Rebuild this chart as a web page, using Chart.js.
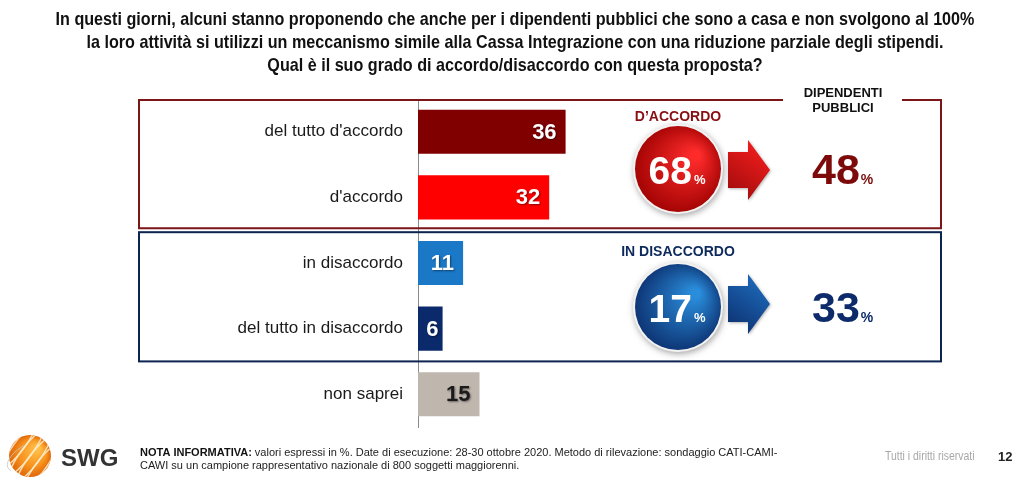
<!DOCTYPE html>
<html><head><meta charset="utf-8">
<script src="https://cdn.jsdelivr.net/npm/chart.js@4.4.1/dist/chart.umd.min.js"></script>
<style>html,body{margin:0;padding:0;background:#fff;}#wrap{width:1022px;height:486px;}</style>
</head><body><div id="wrap"><canvas id="c" width="1022" height="486"></canvas></div>
<script>
const titleLines = [
  "In questi giorni, alcuni stanno proponendo che anche per i dipendenti pubblici che sono a casa e non svolgono al 100%",
  "la loro attività si utilizzi un meccanismo simile alla Cassa Integrazione con una riduzione parziale degli stipendi.",
  "Qual è il suo grado di accordo/disaccordo con questa proposta?"
];
const categories = ["del tutto d'accordo", "d'accordo", "in disaccordo", "del tutto in disaccordo", "non saprei"];
const values = [36, 32, 11, 6, 15];
const barColors = ['#800000', '#ff0000', '#1b78c6', '#0b2a6b', '#bfb6ae'];
const valueLabelColors = ['#ffffff', '#ffffff', '#ffffff', '#ffffff', '#1a1a1a'];
const groupLabels = ["D\u2019ACCORDO", "IN DISACCORDO"];
const groupTotals = [68, 17];
const publicEmployees = [48, 33];
const publicHeader = ["DIPENDENTI", "PUBBLICI"];
const noteLines = [
  ["NOTA INFORMATIVA:", " valori espressi in %. Date di esecuzione: 28-30 ottobre 2020. Metodo di rilevazione: sondaggio CATI-CAMI-"],
  ["", "CAWI su un campione rappresentativo nazionale di 800 soggetti maggiorenni."]
];
const rightsText = "Tutti i diritti riservati";
const pageNumber = "12";

const SANS = "'Liberation Sans', Arial, sans-serif";

function scaledText(ctx, text, x, y, align, font, color, sx) {
  ctx.save();
  ctx.font = font;
  ctx.fillStyle = color;
  ctx.textAlign = align;
  ctx.textBaseline = 'middle';
  ctx.translate(x, y);
  ctx.scale(sx, 1);
  ctx.fillText(text, 0, 0);
  const w = ctx.measureText(text).width * sx;
  ctx.restore();
  return w;
}

const decor = {
  id: 'decor',
  beforeDatasetsDraw(chart) {
    const ctx = chart.ctx;
    const ys = chart.scales.y;
    const ca = chart.chartArea;
    const c = i => ys.getPixelForValue(i);
    const redTop = ca.top + 1, redBot = (c(1) + c(2)) / 2 - 2;
    const blueTop = redBot + 4, blueBot = (c(3) + c(4)) / 2;
    const L = 139, R = 941;
    ctx.save();
    ctx.lineWidth = 2;
    ctx.strokeStyle = '#7a1518';
    ctx.beginPath();
    ctx.moveTo(783, redTop); ctx.lineTo(L, redTop); ctx.lineTo(L, redBot); ctx.lineTo(R, redBot); ctx.lineTo(R, redTop); ctx.lineTo(902, redTop);
    ctx.stroke();
    ctx.strokeStyle = '#0c2450';
    ctx.strokeRect(L, blueTop, R - L, blueBot - blueTop);
    ctx.restore();
  },
  afterDraw(chart) {
    const ctx = chart.ctx;
    ctx.save();
    titleLines.forEach((t, i) => scaledText(ctx, t, 515, 20 + i * 23, 'center', 'bold 19px ' + SANS, '#111', 0.85));
    ctx.textAlign = 'center';
    ctx.textBaseline = 'middle';
    ctx.font = 'bold 13px ' + SANS;
    ctx.fillStyle = '#111';
    publicHeader.forEach((t, i) => ctx.fillText(t, 843, 93 + i * 15));

    const groups = [
      {cy: 169, arrowCy: 170, labelY: 117, labelColor: '#8a0f12',
       light: '#ff2b2b', dark: '#9c0000', aL: '#9a0a0a', aR: '#ff2020', numColor: '#7d0a0a'},
      {cy: 307, arrowCy: 304, labelY: 252, labelColor: '#0d2a5c',
       light: '#2a8ddb', dark: '#0b2d6c', aL: '#0c2c6a', aR: '#1f73c6', numColor: '#0d2a6b'}
    ];
    groups.forEach((g, i) => {
      const cx = 678, r = 43;
      ctx.font = 'bold 14px ' + SANS;
      ctx.fillStyle = g.labelColor;
      ctx.textAlign = 'center';
      ctx.textBaseline = 'middle';
      ctx.fillText(groupLabels[i], cx, g.labelY);
      ctx.save();
      ctx.shadowColor = 'rgba(0,0,0,0.35)';
      ctx.shadowBlur = 6; ctx.shadowOffsetX = 1; ctx.shadowOffsetY = 2;
      ctx.beginPath(); ctx.arc(cx, g.cy, r + 2, 0, Math.PI * 2);
      ctx.fillStyle = '#f2f2f2'; ctx.fill();
      ctx.restore();
      const grd = ctx.createRadialGradient(cx + 18, g.cy - 14, 4, cx, g.cy, r + 6);
      grd.addColorStop(0, g.light); grd.addColorStop(1, g.dark);
      ctx.beginPath(); ctx.arc(cx, g.cy, r, 0, Math.PI * 2);
      ctx.fillStyle = grd; ctx.fill();
      ctx.textBaseline = 'alphabetic';
      ctx.fillStyle = '#fff';
      ctx.font = 'bold 39px ' + SANS;
      const n = String(groupTotals[i]);
      const nw = ctx.measureText(n).width;
      ctx.font = 'bold 13px ' + SANS;
      const pw = ctx.measureText('%').width;
      const sx = cx - (nw + pw + 2) / 2 - 1;
      ctx.textAlign = 'left';
      ctx.font = 'bold 39px ' + SANS;
      ctx.fillText(n, sx, g.cy + 15);
      ctx.font = 'bold 13px ' + SANS;
      ctx.fillText('%', sx + nw + 2, g.cy + 15);
      const ay = g.arrowCy, x0 = 728, xh = 748, x1 = 770;
      const ag = ctx.createLinearGradient(x0, ay + 30, x1, ay - 30);
      ag.addColorStop(0, g.aL); ag.addColorStop(1, g.aR);
      ctx.save();
      ctx.shadowColor = 'rgba(0,0,0,0.3)'; ctx.shadowBlur = 3; ctx.shadowOffsetX = 1; ctx.shadowOffsetY = 1;
      ctx.beginPath();
      ctx.moveTo(x0, ay - 18); ctx.lineTo(xh, ay - 18); ctx.lineTo(xh, ay - 30);
      ctx.lineTo(x1, ay); ctx.lineTo(xh, ay + 30); ctx.lineTo(xh, ay + 18); ctx.lineTo(x0, ay + 18);
      ctx.closePath();
      ctx.fillStyle = ag; ctx.fill();
      ctx.restore();
      ctx.fillStyle = g.numColor;
      ctx.font = 'bold 43px ' + SANS;
      const m = String(publicEmployees[i]);
      const mw = ctx.measureText(m).width;
      ctx.textAlign = 'left';
      ctx.fillText(m, 812, g.cy + 15);
      ctx.font = 'bold 14px ' + SANS;
      ctx.fillText('%', 812 + mw + 1, g.cy + 15);
    });

    // footer logo
    const lx = 30, ly = 456, lr = 21;
    const lg = ctx.createRadialGradient(lx + 8, ly - 8, 2, lx, ly, lr);
    lg.addColorStop(0, '#ffc04a'); lg.addColorStop(0.6, '#f7931e'); lg.addColorStop(1, '#e0670a');
    ctx.beginPath(); ctx.arc(lx, ly, lr, 0, Math.PI * 2); ctx.fillStyle = lg; ctx.fill();
    ctx.save();
    ctx.beginPath(); ctx.arc(lx, ly, lr, 0, Math.PI * 2); ctx.clip();
    ctx.strokeStyle = 'rgba(255,235,200,0.85)'; ctx.lineWidth = 1.5;
    for (let k = -2; k <= 2; k++) {
      ctx.beginPath();
      ctx.ellipse(lx + k * 7, ly + k * 7, 34, 10, -Math.PI / 4 - 0.15, 0, Math.PI * 2);
      ctx.stroke();
    }
    ctx.restore();
    ctx.strokeStyle = 'rgba(200,200,200,0.8)'; ctx.lineWidth = 1;
    ctx.beginPath(); ctx.ellipse(lx, ly, 25, 12, -0.5, Math.PI * 0.9, Math.PI * 1.5); ctx.stroke();
    ctx.fillStyle = '#333';
    ctx.font = 'bold 24px ' + SANS;
    ctx.textAlign = 'left'; ctx.textBaseline = 'middle';
    ctx.fillText('SWG', 61, 459);
    // note
    noteLines.forEach((ln, i) => {
      let x = 140; const y = 453 + i * 13;
      if (ln[0]) x += scaledText(ctx, ln[0], x, y, 'left', 'bold 11px ' + SANS, '#111', 1);
      scaledText(ctx, ln[1], x, y, 'left', '11px ' + SANS, '#222', 1);
    });
    scaledText(ctx, rightsText, 885, 457, 'left', '12px ' + SANS, '#a8a8a8', 0.87);
    ctx.font = 'bold 13px ' + SANS; ctx.fillStyle = '#222'; ctx.textAlign = 'left'; ctx.textBaseline = 'middle';
    ctx.fillText(pageNumber, 998, 457);
    ctx.restore();
  }
};

const valueLabels = {
  id: 'valueLabels',
  afterDatasetsDraw(chart) {
    const ctx = chart.ctx;
    const meta = chart.getDatasetMeta(0);
    ctx.save();
    ctx.font = 'bold 22px ' + SANS;
    ctx.textBaseline = 'middle';
    meta.data.forEach((bar, i) => {
      const w = bar.x - bar.base;
      ctx.shadowColor = 'rgba(0,0,0,0.45)';
      ctx.shadowBlur = 2; ctx.shadowOffsetX = 1; ctx.shadowOffsetY = 1;
      ctx.fillStyle = valueLabelColors[i];
      if (w < 40) { ctx.textAlign = 'center'; ctx.fillText(String(values[i]), bar.base + w / 2 + 2, bar.y + 1); }
      else { ctx.textAlign = 'right'; ctx.fillText(String(values[i]), bar.x - 9, bar.y + 1); }
    });
    ctx.restore();
  }
};

new Chart(document.getElementById('c'), {
  type: 'bar',
  data: {
    labels: categories,
    datasets: [{ data: values, backgroundColor: barColors, barPercentage: 0.672, categoryPercentage: 1 }]
  },
  options: {
    indexAxis: 'y',
    responsive: false,
    animation: false,
    events: [],
    layout: { padding: { top: 99, bottom: 59, left: 0, right: 194 } },
    plugins: { legend: { display: false }, tooltip: { enabled: false }, title: { display: false } },
    scales: {
      x: { display: false, min: 0, max: 100 },
      y: {
        afterFit(s) { s.width = 418; },
        grid: { display: false },
        border: { display: true, color: '#8a8a8a', width: 1 },
        ticks: { padding: 7, color: '#1a1a1a', font: { family: SANS, size: 17 } }
      }
    }
  },
  plugins: [decor, valueLabels]
});
</script>
</body></html>
